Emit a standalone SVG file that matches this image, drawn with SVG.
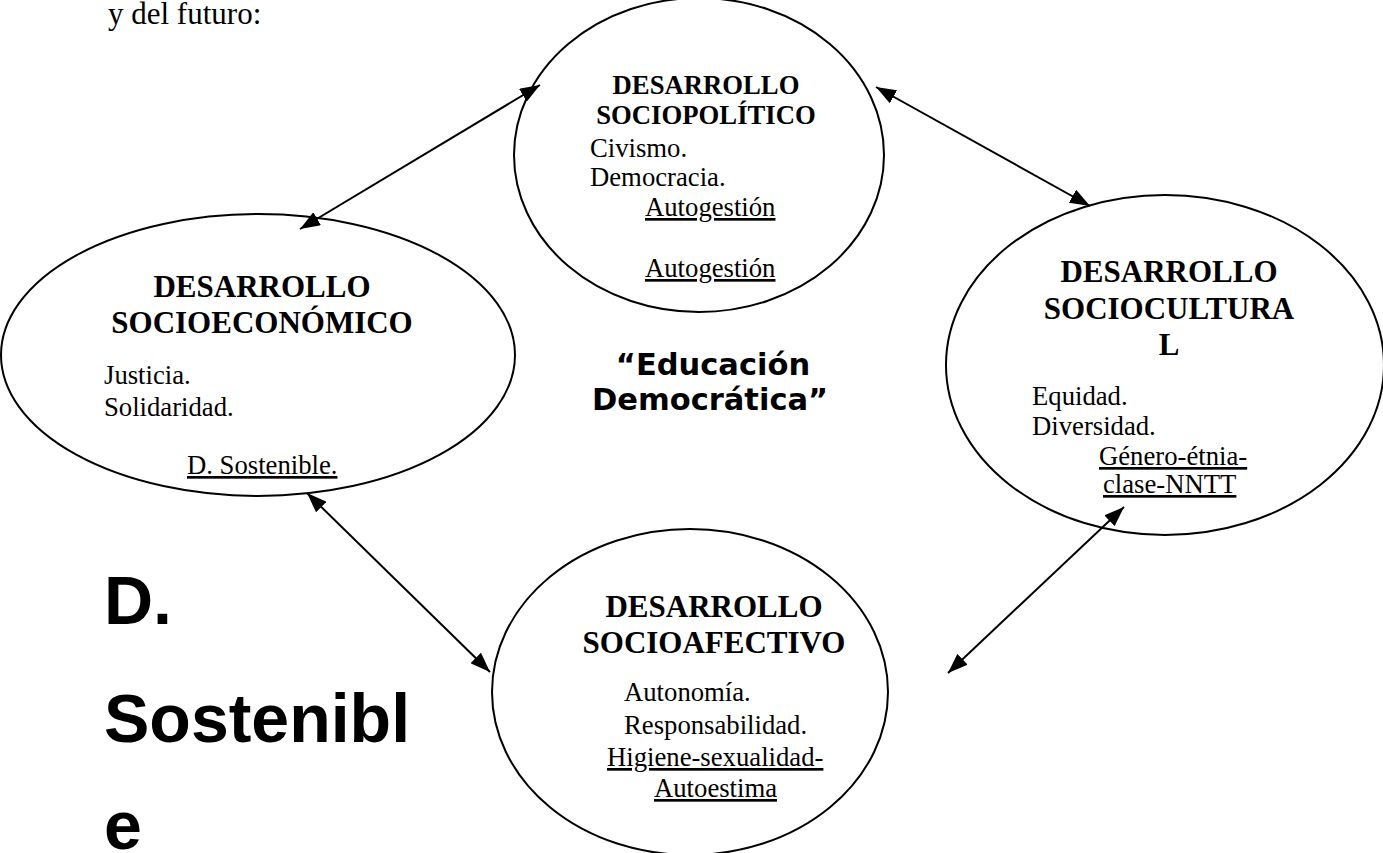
<svg xmlns="http://www.w3.org/2000/svg" width="1383" height="853" viewBox="0 0 1383 853">
<style>
.ell{fill:none;stroke:#000;stroke-width:2}
.t{font-family:"Liberation Serif","Times New Roman",serif;fill:#000}
.ttl{font-weight:bold;text-anchor:middle}
.u{text-decoration:underline}
.conn{stroke:#000;stroke-width:2;fill:none;marker-start:url(#ah);marker-end:url(#ah)}
.big{font-family:"Liberation Sans",Arial,sans-serif;font-weight:bold;font-size:68px;fill:#000}
.edu{font-family:"DejaVu Sans",sans-serif;font-weight:bold;font-size:30.5px;text-anchor:middle;fill:#000}
</style>
<defs>
<marker id="ah" viewBox="0 0 20 15" refX="20" refY="7.5" markerWidth="20" markerHeight="15" markerUnits="userSpaceOnUse" orient="auto-start-reverse">
<path d="M0,0 L20,7.5 L0,15 Z" fill="#000"/>
</marker>
</defs>
<rect width="1383" height="853" fill="#fff"/>
<text class="t" x="108" y="24" font-size="31">y del futuro:</text>

<g id="connectors">
<line class="conn" x1="300" y1="229" x2="540" y2="85"/>
<line class="conn" x1="876" y1="87" x2="1090" y2="206"/>
<line class="conn" x1="307" y1="493" x2="490" y2="672"/>
<line class="conn" x1="1124" y1="507" x2="948" y2="673"/>
</g>

<g id="sociopolitico">
<ellipse class="ell" cx="699" cy="155" rx="185" ry="157"/>
<text class="t ttl" x="706" y="94" font-size="26.7">DESARROLLO</text>
<text class="t ttl" x="706" y="124" font-size="26.7">SOCIOPOLÍTICO</text>
<text class="t" x="590" y="157" font-size="26.7">Civismo.</text>
<text class="t" x="590" y="186" font-size="26.7">Democracia.</text>
<text class="t u" x="645" y="216" font-size="26.7">Autogestión</text>
<text class="t u" x="645" y="277" font-size="26.7">Autogestión</text>
</g>

<g id="socioeconomico">
<ellipse class="ell" cx="258" cy="355" rx="257" ry="141"/>
<text class="t ttl" x="262" y="297" font-size="31">DESARROLLO</text>
<text class="t ttl" x="262" y="333" font-size="31">SOCIOECONÓMICO</text>
<text class="t" x="104" y="384" font-size="26.7">Justicia.</text>
<text class="t" x="104" y="416" font-size="26.7">Solidaridad.</text>
<text class="t u" x="187" y="474" font-size="26.7">D. Sostenible.</text>
</g>

<g id="sociocultural">
<ellipse class="ell" cx="1165" cy="365" rx="219" ry="170"/>
<text class="t ttl" x="1169" y="282" font-size="31">DESARROLLO</text>
<text class="t ttl" x="1169" y="319" font-size="31">SOCIOCULTURA</text>
<text class="t ttl" x="1169" y="355" font-size="31">L</text>
<text class="t" x="1032" y="405" font-size="26.7">Equidad.</text>
<text class="t" x="1032" y="435" font-size="26.7">Diversidad.</text>
<text class="t u" x="1099" y="465" font-size="26.7">Género-étnia-</text>
<text class="t u" x="1103" y="493" font-size="26.7">clase-NNTT</text>
</g>

<g id="socioafectivo">
<ellipse class="ell" cx="690" cy="692" rx="198" ry="163"/>
<text class="t ttl" x="714" y="617" font-size="31">DESARROLLO</text>
<text class="t ttl" x="714" y="653" font-size="31">SOCIOAFECTIVO</text>
<text class="t" x="624" y="701" font-size="26.7">Autonomía.</text>
<text class="t" x="624" y="734" font-size="26.7">Responsabilidad.</text>
<text class="t u" x="607" y="766" font-size="26.7">Higiene-sexualidad-</text>
<text class="t u" x="654" y="797" font-size="26.7">Autoestima</text>
</g>

<g id="educacion">
<text class="edu" x="713" y="375">“Educación</text>
<text class="edu" x="710" y="410">Democrática”</text>
</g>

<g id="sostenible">
<text class="big" x="104" y="624">D.</text>
<text class="big" x="104" y="742">Sostenibl</text>
<text class="big" x="104" y="849">e</text>
</g>
</svg>
